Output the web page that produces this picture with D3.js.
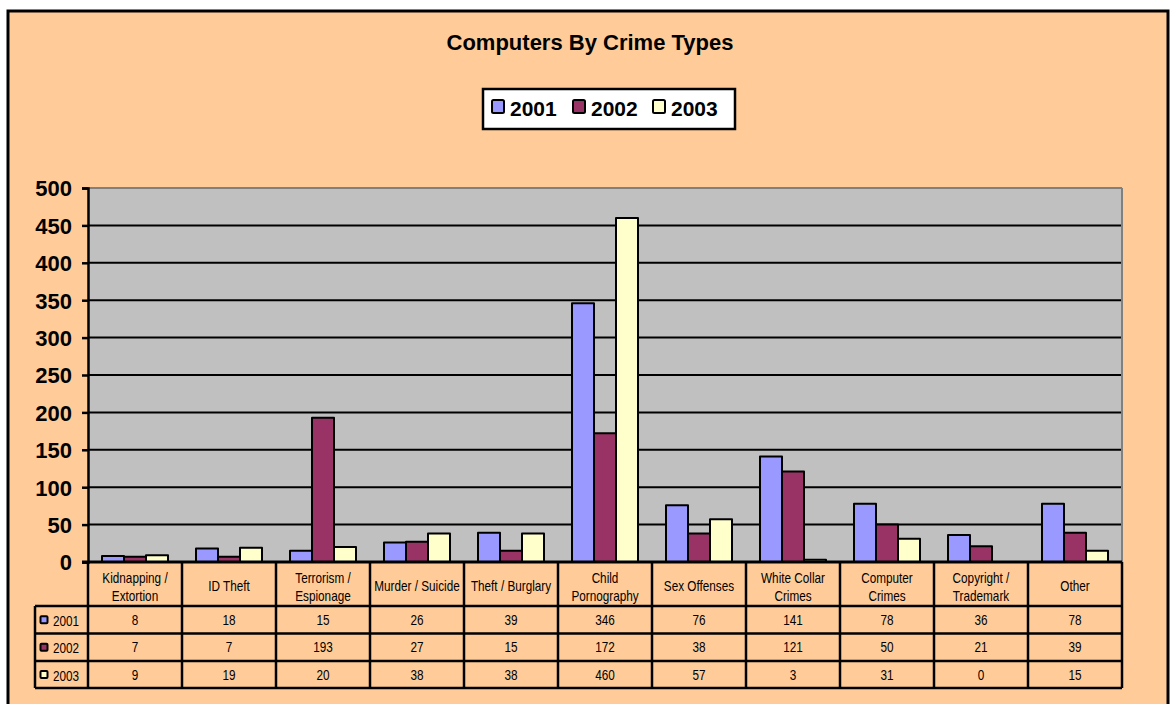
<!DOCTYPE html>
<html>
<head>
<meta charset="utf-8">
<script src="https://cdn.jsdelivr.net/npm/d3@7"></script>
<style>
  html, body { margin: 0; padding: 0; background: #ffffff; }
  svg { display: block; }
</style>
</head>
<body>
<svg id="chart" width="1170" height="704"></svg>
<script>
const categories = [
  "Kidnapping /\nExtortion", "ID Theft", "Terrorism /\nEspionage", "Murder / Suicide",
  "Theft / Burglary", "Child\nPornography", "Sex Offenses", "White Collar\nCrimes",
  "Computer\nCrimes", "Copyright /\nTrademark", "Other"
];
const seriesNames = ["2001", "2002", "2003"];
const values2001 = [8, 18, 15, 26, 39, 346, 76, 141, 78, 36, 78];
const values2002 = [7, 7, 193, 27, 15, 172, 38, 121, 50, 21, 39];
const values2003 = [9, 19, 20, 38, 38, 460, 57, 3, 31, 0, 15];
const seriesColors = ["#9999FF", "#993366", "#FFFFCC"];
const yTicks = [0, 50, 100, 150, 200, 250, 300, 350, 400, 450, 500];
const titleText = "Computers By Crime Types";

const seriesValues = [values2001, values2002, values2003];

const svg = d3.select("#chart");
const narrow = "'Liberation Sans Narrow', 'Arial Narrow', 'Liberation Sans', Arial, sans-serif";
const bold = "'Liberation Sans', Arial, sans-serif";
const sqz = 0.84;   // horizontal squeeze to imitate a narrow face

// chart background
svg.append("rect").attr("x", 8).attr("y", 11).attr("width", 1160).attr("height", 720)
  .attr("fill", "#FFCC99").attr("stroke", "#000").attr("stroke-width", 3);

const plotL = 88, plotR = 1122, plotT = 188, plotB = 562;

const x = d3.scaleBand().domain(categories).range([plotL, plotR]).paddingInner(0).paddingOuter(0);
const bw = x.bandwidth();
const xs = d3.scaleBand().domain(seriesNames).range([bw / 2 - 33, bw / 2 + 33]).padding(0);
const y = d3.scaleLinear().domain([0, 500]).range([plotB, plotT]);

// plot area
svg.append("rect").attr("x", plotL).attr("y", plotT).attr("width", plotR - plotL).attr("height", plotB - plotT)
  .attr("fill", "#C0C0C0");
// grid
svg.append("g").selectAll("line").data(yTicks.filter(t => t > 0 && t < 500)).join("line")
  .attr("x1", plotL).attr("x2", plotR).attr("y1", d => y(d)).attr("y2", d => y(d))
  .attr("stroke", "#000").attr("stroke-width", 2);
// plot border (gray)
svg.append("line").attr("x1", plotL).attr("x2", plotR).attr("y1", plotT).attr("y2", plotT)
  .attr("stroke", "#808080").attr("stroke-width", 2);
svg.append("line").attr("x1", plotR).attr("x2", plotR).attr("y1", plotT).attr("y2", plotB)
  .attr("stroke", "#808080").attr("stroke-width", 2);

// bars
const groups = svg.append("g").selectAll("g").data(categories).join("g")
  .attr("transform", d => `translate(${x(d)},0)`);
groups.selectAll("rect").data((d, i) => seriesNames.map((s, j) => ({ s, j, v: seriesValues[j][i] })))
  .join("rect")
  .attr("x", d => xs(d.s)).attr("width", xs.bandwidth())
  .attr("y", d => y(d.v)).attr("height", d => plotB - y(d.v))
  .attr("fill", d => seriesColors[d.j]).attr("stroke", "#000").attr("stroke-width", 2)
  .attr("stroke-linejoin", "round");

// y axis
const yAxis = d3.axisLeft(y).tickValues(yTicks).tickSize(6).tickPadding(10).tickFormat(d3.format("d"));
const ya = svg.append("g").attr("transform", `translate(${plotL},0)`).call(yAxis);
ya.select(".domain").attr("stroke", "#000").attr("stroke-width", 2.5);
ya.selectAll(".tick line").attr("stroke", "#000").attr("stroke-width", 2.5);
ya.selectAll(".tick text").attr("font-family", bold).attr("font-weight", "bold")
  .attr("font-size", 22).attr("fill", "#000").attr("dy", "0.36em");

// title
svg.append("text").attr("x", 590).attr("y", 50).attr("text-anchor", "middle")
  .attr("font-family", bold).attr("font-weight", "bold").attr("font-size", 22).text(titleText);

// legend
const lg = svg.append("g");
lg.append("rect").attr("x", 483).attr("y", 89).attr("width", 252).attr("height", 40)
  .attr("fill", "#fff").attr("stroke", "#000").attr("stroke-width", 2.5);
const legX = [491, 572, 652];
seriesNames.forEach((s, j) => {
  lg.append("rect").attr("x", legX[j] + 1).attr("y", 100).attr("width", 12).attr("height", 13)
    .attr("rx", 1.5).attr("fill", seriesColors[j]).attr("stroke", "#000").attr("stroke-width", 2);
  lg.append("text").attr("x", legX[j] + 19).attr("y", 116)
    .attr("font-family", bold).attr("font-weight", "bold").attr("font-size", 21).text(s);
});

// narrow text helper
function narrowText(g, cx, cy, str, anchor) {
  return g.append("text")
    .attr("transform", `translate(${cx},${cy}) scale(${sqz},1)`)
    .attr("text-anchor", anchor || "middle").attr("font-family", narrow)
    .attr("font-size", 14).attr("fill", "#000").text(str);
}

// data table
const rowTop = [606, 633.5, 661];
const tblB = 688;
const tbl = svg.append("g");
// category labels
categories.forEach(c => {
  const lines = c.split("\n");
  const cx = x(c) + bw / 2;
  if (lines.length === 1) {
    narrowText(tbl, cx, 590.5, lines[0]);
  } else {
    narrowText(tbl, cx, 582.5, lines[0]);
    narrowText(tbl, cx, 600.5, lines[1]);
  }
});
// values
seriesNames.forEach((s, j) => {
  const rowMid = (rowTop[j] + (j < 2 ? rowTop[j + 1] : tblB)) / 2;
  categories.forEach((c, i) => {
    narrowText(tbl, x(c) + bw / 2, rowMid + 5, seriesValues[j][i]);
  });
  tbl.append("rect").attr("x", 40.5).attr("y", rowMid - 3.5).attr("width", 7).attr("height", 7)
    .attr("rx", 1).attr("fill", seriesColors[j]).attr("stroke", "#000").attr("stroke-width", 2);
  narrowText(tbl, 53, rowMid + 6, s, "start");
});
// grid lines of table
const lw = 2.5;
rowTop.concat([tblB]).forEach(yy => {
  tbl.append("line").attr("x1", 35).attr("x2", plotR).attr("y1", yy).attr("y2", yy)
    .attr("stroke", "#000").attr("stroke-width", lw);
});
categories.forEach(c => {
  tbl.append("line").attr("x1", x(c)).attr("x2", x(c)).attr("y1", plotB).attr("y2", tblB)
    .attr("stroke", "#000").attr("stroke-width", lw);
});
tbl.append("line").attr("x1", plotR).attr("x2", plotR).attr("y1", plotB).attr("y2", tblB)
  .attr("stroke", "#000").attr("stroke-width", lw);
tbl.append("line").attr("x1", 35).attr("x2", 35).attr("y1", rowTop[0]).attr("y2", tblB)
  .attr("stroke", "#000").attr("stroke-width", lw);
// x axis line
svg.append("line").attr("x1", plotL - 6).attr("x2", plotR).attr("y1", plotB).attr("y2", plotB)
  .attr("stroke", "#000").attr("stroke-width", 3);
</script>
</body>
</html>
